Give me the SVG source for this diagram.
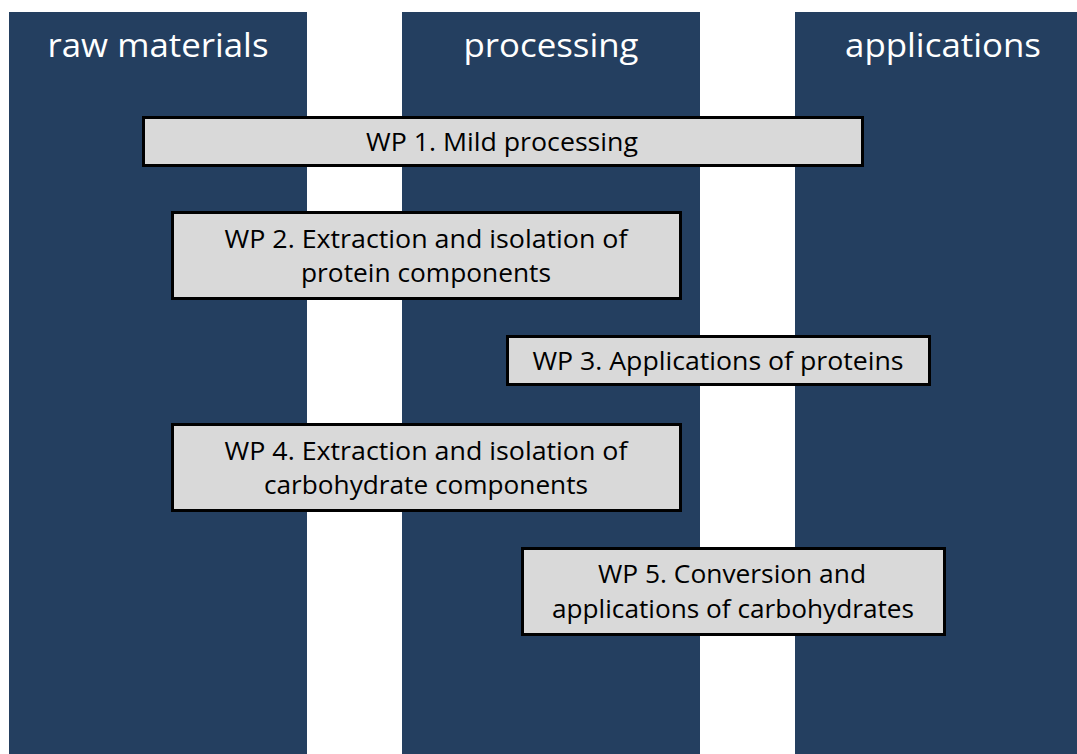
<svg xmlns="http://www.w3.org/2000/svg" width="1077" height="754" viewBox="0 0 1077 754">
<style>
.col{fill:#243F60}
.hdr{font-family:"Open Sans","Noto Sans",sans-serif;font-size:33px;fill:#FFFFFF;text-anchor:middle}
.box{fill:#D9D9D9;stroke:#000000;stroke-width:3}
.lbl{font-family:"Open Sans","Noto Sans",sans-serif;font-size:25px;fill:#000000;text-anchor:middle}
</style>
<rect width="1077" height="754" fill="#FFFFFF"/>
<g id="col-raw">
<rect class="col" x="9" y="12" width="298" height="742"/>
<text class="hdr" x="158" y="57" textLength="221" lengthAdjust="spacingAndGlyphs">raw materials</text>
</g>
<g id="col-processing">
<rect class="col" x="402" y="12" width="298" height="742"/>
<text class="hdr" x="551" y="57" textLength="175" lengthAdjust="spacingAndGlyphs">processing</text>
</g>
<g id="col-applications">
<rect class="col" x="795" y="12" width="298" height="742"/>
<text class="hdr" x="943" y="57" textLength="196" lengthAdjust="spacingAndGlyphs">applications</text>
</g>
<g id="connectors"></g>
<g id="wp1">
<rect class="box" x="143.5" y="117.5" width="719" height="48"/>
<text class="lbl" x="502" y="151" textLength="272" lengthAdjust="spacingAndGlyphs">WP 1. Mild processing</text>
</g>
<g id="wp2">
<rect class="box" x="172.5" y="212.5" width="508" height="86"/>
<text class="lbl" x="426" y="248" textLength="403" lengthAdjust="spacingAndGlyphs">WP 2. Extraction and isolation of</text>
<text class="lbl" x="426" y="282" textLength="250" lengthAdjust="spacingAndGlyphs">protein components</text>
</g>
<g id="wp3">
<rect class="box" x="507.5" y="336.5" width="422" height="48"/>
<text class="lbl" x="718" y="370" textLength="371" lengthAdjust="spacingAndGlyphs">WP 3. Applications of proteins</text>
</g>
<g id="wp4">
<rect class="box" x="172.5" y="424.5" width="508" height="86"/>
<text class="lbl" x="426" y="460" textLength="403" lengthAdjust="spacingAndGlyphs">WP 4. Extraction and isolation of</text>
<text class="lbl" x="426" y="494" textLength="324" lengthAdjust="spacingAndGlyphs">carbohydrate components</text>
</g>
<g id="wp5">
<rect class="box" x="522.5" y="548.5" width="422" height="86"/>
<text class="lbl" x="732" y="583" textLength="268" lengthAdjust="spacingAndGlyphs">WP 5. Conversion and</text>
<text class="lbl" x="733" y="618" textLength="362" lengthAdjust="spacingAndGlyphs">applications of carbohydrates</text>
</g>
</svg>
